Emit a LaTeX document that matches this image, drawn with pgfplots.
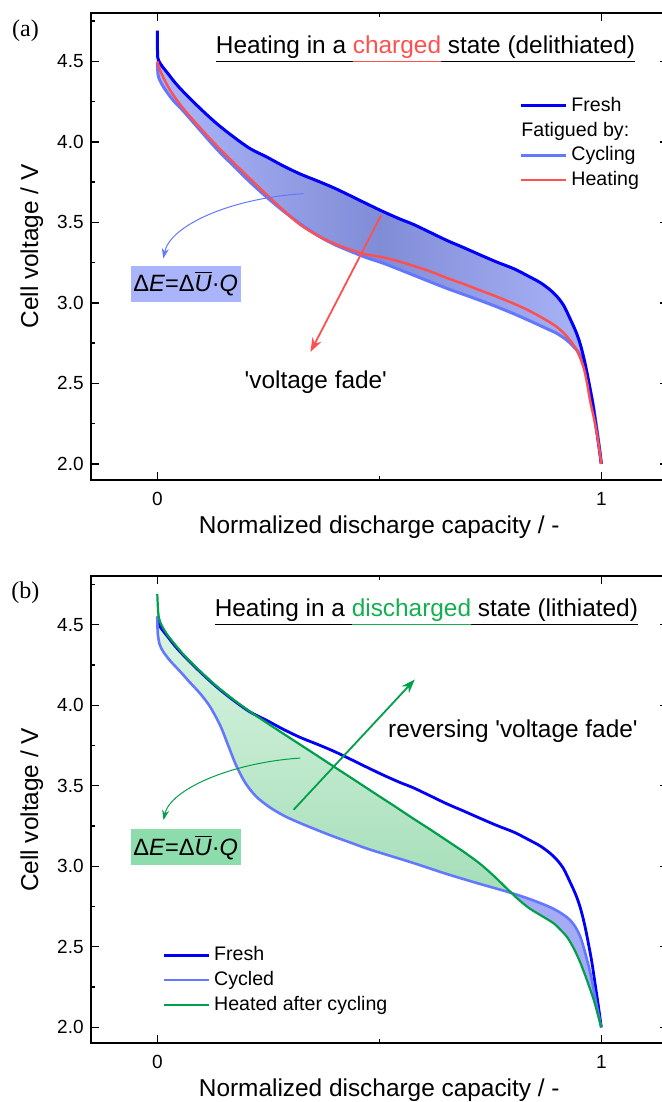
\documentclass[border=0pt]{standalone}
\usepackage{fontspec}
\setmainfont{Liberation Sans}
\newfontfamily\seriffont{Liberation Serif}
\usepackage{pgfplots}
\pgfplotsset{compat=1.18}
\usepackage{pgfplotstable}
\usepgfplotslibrary{fillbetween}
\usetikzlibrary{arrows.meta}

\definecolor{fresh}{RGB}{0,0,250}
\definecolor{cyc}{RGB}{100,120,255}
\definecolor{heat}{RGB}{255,80,80}
\definecolor{grn}{RGB}{0,160,75}
\definecolor{grntxt}{RGB}{20,175,80}
\definecolor{fillL}{RGB}{172,182,250}
\definecolor{fillM}{RGB}{128,140,214}
\definecolor{boxA}{RGB}{170,180,250}
\definecolor{boxB}{RGB}{140,220,172}
\definecolor{gTop}{RGB}{224,247,230}
\definecolor{gBot}{RGB}{165,222,185}
\definecolor{bfill}{RGB}{165,172,245}

\pgfplotstableread{
x y
0 4.69
0.0003 4.60
0.001 4.525
0.0045 4.497
0.011 4.469
0.0225 4.429
0.0405 4.366
0.059 4.31
0.097 4.206
0.134 4.113
0.172 4.03
0.209 3.958
0.247 3.905
0.284 3.85
0.322 3.80
0.36 3.758
0.397 3.715
0.435 3.665
0.472 3.615
0.51 3.565
0.547 3.52
0.577 3.487
0.615 3.437
0.652 3.388
0.69 3.343
0.727 3.298
0.765 3.253
0.803 3.212
0.835 3.167
0.863 3.125
0.885 3.08
0.90 3.04
0.915 2.985
0.93 2.90
0.943 2.82
0.953 2.74
0.963 2.63
0.971 2.52
0.979 2.40
0.986 2.27
0.993 2.14
1.0 2.0
}\freshA

\pgfplotstableread{
x y
0 4.55
0.001 4.525
0.0045 4.497
0.011 4.469
0.0225 4.429
0.0405 4.366
0.059 4.31
0.097 4.206
0.134 4.113
0.172 4.03
0.209 3.958
0.247 3.905
0.284 3.85
0.322 3.80
0.36 3.758
0.397 3.715
0.435 3.665
0.472 3.615
0.51 3.565
0.547 3.52
0.577 3.487
0.615 3.437
0.652 3.388
0.69 3.343
0.727 3.298
0.765 3.253
0.803 3.212
0.835 3.167
0.863 3.125
0.885 3.08
0.90 3.04
0.915 2.985
0.93 2.90
0.943 2.82
0.953 2.74
0.963 2.63
0.971 2.52
0.979 2.40
0.986 2.27
0.993 2.14
1.0 2.0
}\freshB

\pgfplotstableread{
x y
0 4.49
0.001 4.44
0.003 4.40
0.014 4.34
0.035 4.26
0.059 4.19
0.097 4.07
0.134 3.955
0.172 3.85
0.209 3.75
0.247 3.655
0.284 3.57
0.322 3.49
0.36 3.42
0.397 3.365
0.435 3.32
0.472 3.28
0.51 3.245
0.547 3.205
0.577 3.172
0.615 3.13
0.652 3.09
0.69 3.052
0.727 3.015
0.765 2.975
0.803 2.932
0.84 2.887
0.877 2.84
0.90 2.81
0.923 2.767
0.945 2.705
0.955 2.66
0.964 2.60
0.975 2.46
0.983 2.35
0.991 2.20
0.997 2.08
1.0 2.0
}\cycA

\pgfplotstableread{
x y
0 4.50
0.003 4.47
0.01 4.42
0.029 4.32
0.059 4.205
0.097 4.085
0.134 3.975
0.172 3.87
0.209 3.77
0.247 3.67
0.284 3.575
0.322 3.485
0.36 3.42
0.397 3.37
0.435 3.33
0.472 3.30
0.51 3.282
0.547 3.255
0.577 3.23
0.615 3.195
0.652 3.155
0.69 3.117
0.727 3.078
0.765 3.038
0.803 2.995
0.84 2.948
0.877 2.891
0.90 2.85
0.923 2.79
0.945 2.705
0.96 2.60
0.968 2.50
0.975 2.39
0.983 2.29
0.99 2.19
0.996 2.08
1.0 2.0
}\heatA

\pgfplotstableread{
x y
0 4.55
0.001 4.45
0.005 4.38
0.0135 4.332
0.029 4.276
0.052 4.208
0.074 4.14
0.097 4.071
0.119 3.99
0.142 3.873
0.16 3.748
0.178 3.624
0.198 3.519
0.223 3.432
0.255 3.363
0.288 3.31
0.322 3.268
0.36 3.225
0.397 3.185
0.435 3.147
0.472 3.11
0.51 3.077
0.577 3.02
0.652 2.952
0.727 2.89
0.788 2.842
0.84 2.795
0.893 2.735
0.93 2.665
0.953 2.56
0.975 2.34
0.99 2.13
1.0 2.0
}\cycB

\pgfplotstableread{
x y
0 4.69
0.002 4.58
0.006 4.52
0.022 4.44
0.059 4.315
0.097 4.21
0.134 4.117
0.172 4.034
0.209 3.96
0.247 3.89
0.284 3.823
0.322 3.755
0.36 3.687
0.397 3.62
0.435 3.552
0.472 3.485
0.502 3.431
0.54 3.363
0.577 3.295
0.615 3.228
0.652 3.16
0.69 3.09
0.727 3.015
0.758 2.94
0.788 2.86
0.815 2.79
0.84 2.735
0.87 2.685
0.893 2.645
0.91 2.60
0.923 2.56
0.938 2.49
0.953 2.40
0.968 2.29
0.983 2.17
0.993 2.07
1.0 2.0
}\heatB

\pgfplotsset{myax/.style={
  scale only axis, width=288.6pt, height=233.5pt,
  xmin=-0.15, xmax=1.15, ymin=1.9, ymax=4.8,
  xtick={0,1}, minor xtick={0.5},
  ytick={2,2.5,...,4.5}, minor ytick={2.25,2.75,...,4.75},
  tick align=inside, major tick length=4pt, minor tick length=2pt,
  every tick/.style={black, line width=0.7pt},
  axis line style={line width=1pt},
  tick label style={font=\fontsize{9.5}{11}\selectfont},
  /pgf/number format/assume math mode=true,
  yticklabel style={/pgf/number format/.cd, fixed, fixed zerofill, precision=1},
  xticklabel style={yshift=-2.5pt},
  every axis x label/.style={at={(axis description cs:0.5,-0.1006)}, anchor=center, font=\fontsize{12.2}{14}\selectfont},
  every axis y label/.style={at={(axis description cs:-0.1022,0.5)}, rotate=90, anchor=center, font=\fontsize{12.2}{14}\selectfont},
  xlabel={Normalized discharge capacity / -},
  ylabel={Cell voltage / V},
  clip=false,
  every axis plot/.append style={smooth, tension=0.5},
  legend cell align=left,
  legend image code/.code={\draw[#1, sharp plot] (0pt,0pt) -- (22.5pt,0pt);},
}}

\begin{document}
\begin{tikzpicture}
% ---------------- panel (a)
\begin{axis}[myax, at={(0,0)}, anchor=north west,
  legend style={at={(axis description cs:0.742,0.829)}, anchor=north west, draw=none, fill=none,
    font=\fontsize{9.8}{11}\selectfont, row sep=0pt, inner sep=0pt, nodes={inner ysep=1.9pt}}]
\addplot[draw=none, name path=fA, forget plot] table {\freshA};
\addplot[draw=none, name path=cA, forget plot] table {\cycA};
\addplot[draw=none, left color=fillL, right color=fillL, middle color=fillM, forget plot] fill between[of=fA and cA];
\addplot[cyc, line width=1.5pt, forget plot] table {\cycA};
\addplot[fresh, line width=1.5pt] table {\freshA};
\addlegendentry{Fresh}
\addlegendimage{empty legend}
\addlegendentry{\hspace*{-25pt}Fatigued by:}
\addlegendimage{cyc, line width=1.5pt}
\addlegendentry{Cycling}
\addplot[heat, line width=1.25pt] table {\heatA};
\addlegendentry{Heating}
\node[font=\fontsize{12.2}{14}\selectfont] at (axis cs:0.604,4.575)
  {\underline{\vphantom{(g}Heating in a }\textcolor{heat}{\underline{\vphantom{(g}charged}}\underline{\vphantom{(g} state (delithiated)}};
\node[fill=boxA, minimum width=55pt, minimum height=18pt, inner sep=0pt, font=\fontsize{11.8}{13}\selectfont]
  at (axis cs:0.064,3.12) {Δ\textit{E}=Δ$\overline{\mbox{\textit{U}}}$·\textit{Q}};
\draw[cyc, line width=0.5pt, -{Stealth[length=5pt,width=3.5pt]}] (axis cs:0.329,3.678) .. controls (axis cs:0.164,3.649) and (axis cs:0.029,3.481) .. (axis cs:0.0135,3.276);
\draw[heat, line width=0.9pt, -{Stealth[length=7pt,width=5pt]}] (axis cs:0.504,3.543) -- (axis cs:0.345,2.695);
\node[font=\fontsize{12.2}{14}\selectfont] at (axis cs:0.357,2.508) {\textquotesingle voltage fade\textquotesingle};
\node[font=\fontsize{12}{14}\seriffont] at (axis description cs:-0.113,0.961) {(a)};
\end{axis}
% ---------------- panel (b)
\begin{axis}[myax, at={(0,-281.7pt)}, anchor=north west,
  legend style={at={(axis description cs:0.1235,0.216)}, anchor=north west, draw=none, fill=none,
    font=\fontsize{9.8}{11}\selectfont, row sep=0pt, inner sep=0pt, nodes={inner ysep=1.9pt}}]
\addplot[draw=none, sharp plot, name path=cB, forget plot] table {\cycB};
\addplot[draw=none, sharp plot, name path=hB, forget plot] table {\heatB};
\addplot[draw=none, sharp plot, top color=gTop, bottom color=gBot, forget plot] fill between[of=hB and cB, soft clip={domain=0:0.79}];
\addplot[draw=none, sharp plot, fill=bfill, forget plot] fill between[of=hB and cB, soft clip={domain=0.79:1}];
\addplot[fresh, line width=1.4pt] table {\freshB};
\addlegendentry{Fresh}
\addplot[cyc, line width=1.3pt] table {\cycB};
\addlegendentry{Cycled}
\addplot[grn, line width=1.1pt] table {\heatB};
\addlegendentry{Heated after cycling}
\node[font=\fontsize{12.2}{14}\selectfont] at (axis cs:0.606,4.575)
  {\underline{\vphantom{(g}Heating in a }\textcolor{grntxt}{\underline{\vphantom{(g}discharged}}\underline{\vphantom{(g} state (lithiated)}};
\node[fill=boxB, minimum width=55pt, minimum height=18pt, inner sep=0pt, font=\fontsize{11.8}{13}\selectfont]
  at (axis cs:0.064,3.118) {Δ\textit{E}=Δ$\overline{\mbox{\textit{U}}}$·\textit{Q}};
\draw[grn, line width=0.5pt, -{Stealth[length=5pt,width=3.5pt]}] (axis cs:0.322,3.672) .. controls (axis cs:0.164,3.643) and (axis cs:0.029,3.475) .. (axis cs:0.014,3.287);
\draw[grn, line width=0.9pt, -{Stealth[length=7pt,width=5pt]}] (axis cs:0.307,3.351) -- (axis cs:0.58,4.16);
\node[font=\fontsize{12.2}{14}\selectfont] at (axis cs:0.801,3.837) {reversing \textquotesingle voltage fade\textquotesingle};
\node[font=\fontsize{12}{14}\seriffont] at (axis description cs:-0.113,0.966) {(b)};
\end{axis}
\pgfresetboundingbox
\useasboundingbox (-45.35pt,6.5pt) rectangle (285.65pt,-544.5pt);
\end{tikzpicture}
\end{document}
